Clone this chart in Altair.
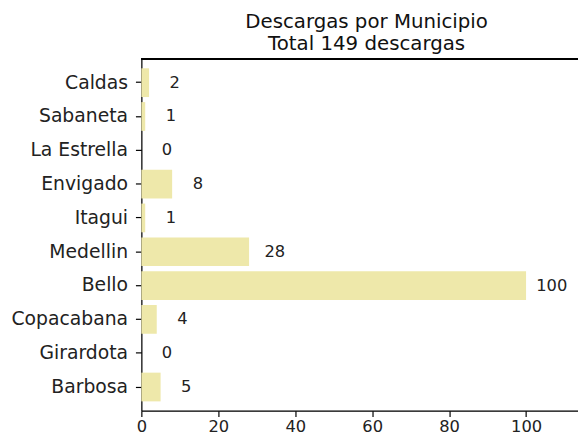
import altair as alt
import pandas as pd

municipios = ["Caldas", "Sabaneta", "La Estrella", "Envigado", "Itagui",
              "Medellin", "Bello", "Copacabana", "Girardota", "Barbosa"]
descargas = [2, 1, 0, 8, 1, 28, 100, 4, 0, 5]
x_ticks = [0, 20, 40, 60, 80, 100]

df = pd.DataFrame({"municipio": municipios, "descargas": descargas})

W = 442
H = 356
FONT = "DejaVu Sans"

y_enc = alt.Y("municipio:N", sort=municipios,
              scale=alt.Scale(paddingInner=0.15, paddingOuter=0.275),
              axis=alt.Axis(title=None, labelFontSize=19, labelFont=FONT,
                            labelColor="#222222", tickSize=6, labelPadding=8,
                            domainColor="#000000", tickColor="#000000",
                            domainWidth=1.2, tickWidth=1.2))
x_scale = alt.Scale(domain=[0, 113.5], nice=False, zero=True)

bars = alt.Chart(df).mark_bar(color="#EEE8AA").encode(
    x=alt.X("descargas:Q", scale=x_scale,
            axis=alt.Axis(title=None, values=x_ticks, grid=False,
                          labelFontSize=16.5, labelFont=FONT,
                          labelColor="#222222", tickSize=6, labelPadding=2,
                          domainColor="#000000", tickColor="#000000",
                          domainWidth=1.2, tickWidth=1.2, labelFlush=False)),
    y=y_enc,
)

labels = alt.Chart(df).mark_text(align="center", baseline="middle", dx=26,
                                 fontSize=16.5, font=FONT, color="#222222").encode(
    x=alt.X("descargas:Q", scale=x_scale),
    y=alt.Y("municipio:N", sort=municipios),
    text="descargas:Q",
)

top_spine = alt.Chart(df).mark_rule(color="#000000", strokeWidth=1.2).encode(
    x=alt.value(0), x2=alt.value(W), y=alt.value(0)
)

chart = alt.layer(bars, labels, top_spine).properties(
    width=W, height=H,
    title=alt.Title(["Descargas por Municipio", "Total 149 descargas"],
                    fontSize=20, font=FONT, fontWeight="normal", color="#111111",
                    lineHeight=22, anchor="middle", offset=5, dx=7),
    autosize=alt.AutoSizeParams(type="none"),
    padding={"left": 135, "top": 49, "right": 0, "bottom": 23},
).configure_view(stroke=None).configure(background="white")

chart.save("out.html", embed_options={"renderer": "svg", "actions": False})
